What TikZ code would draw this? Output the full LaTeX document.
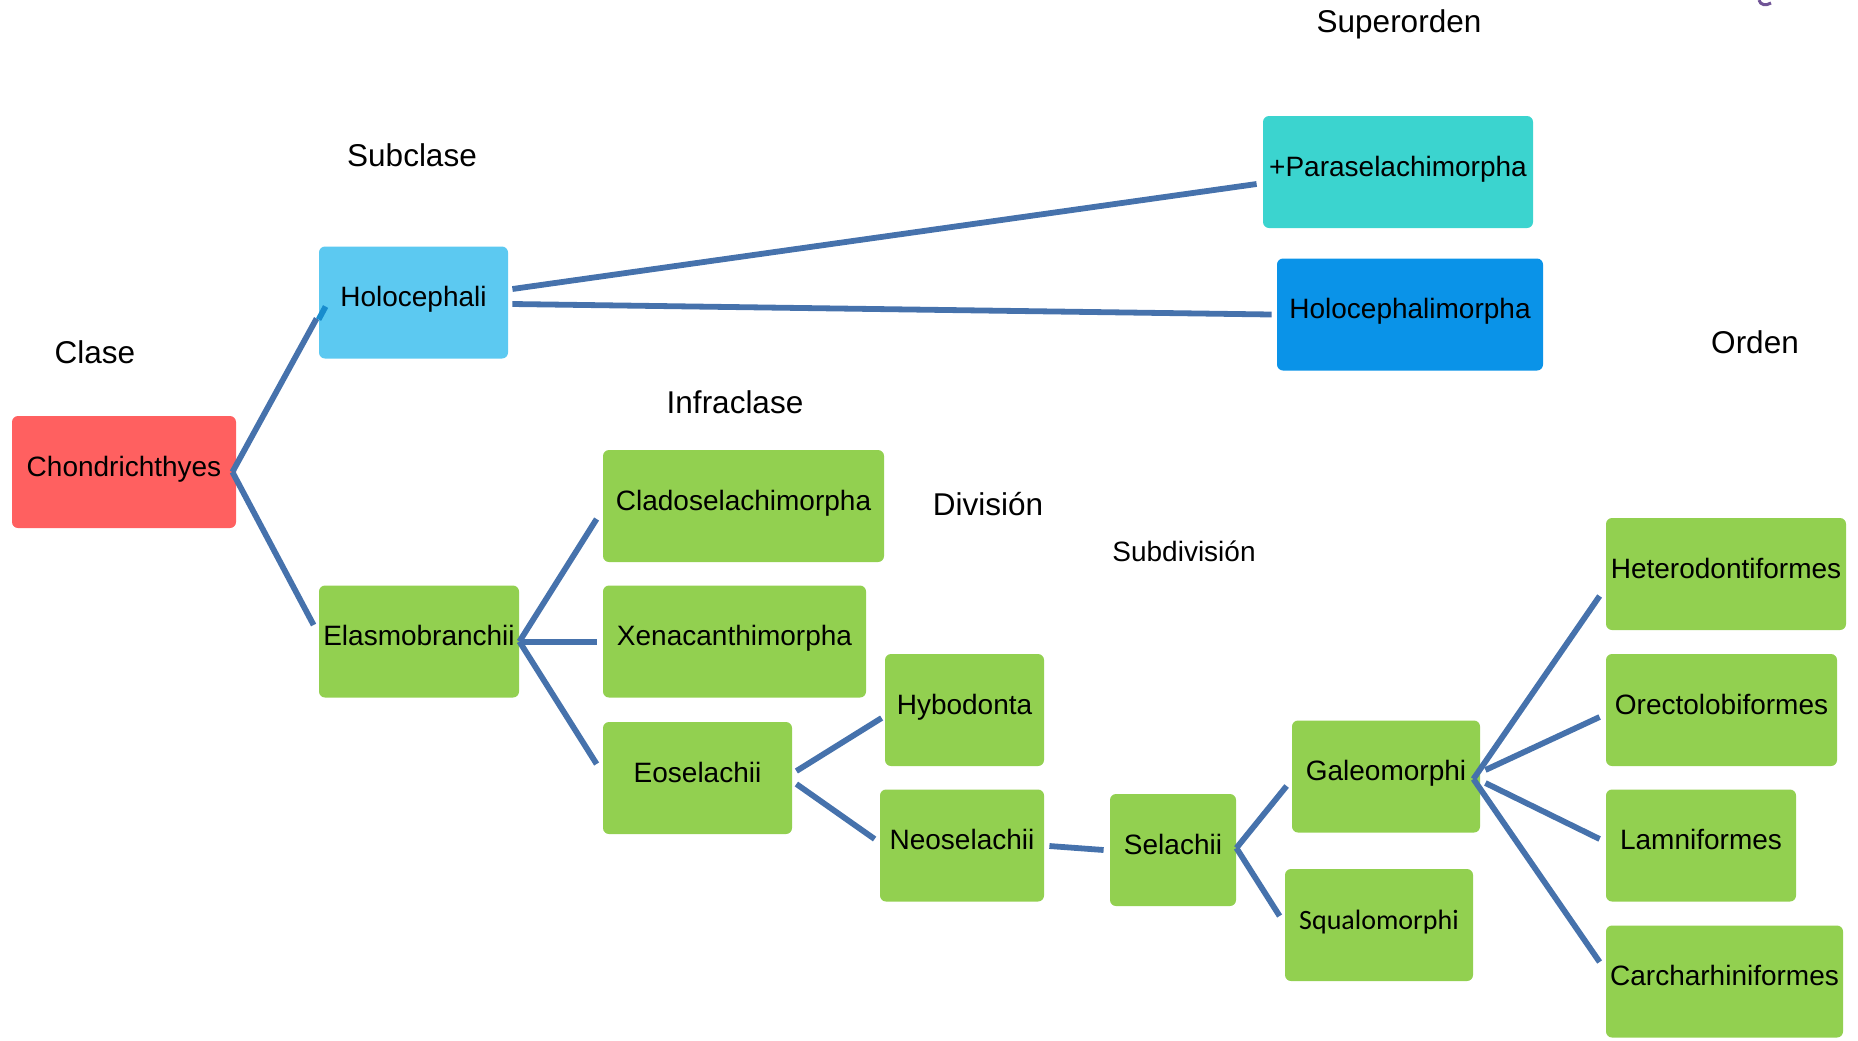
\documentclass[tikz,border=0pt]{standalone}
\usepackage{fontspec}
\setmainfont{Liberation Sans}
\newfontfamily\carlito{Carlito}
\usetikzlibrary{calc}

\definecolor{linkblue}{RGB}{70,114,172}
\definecolor{tipblue}{RGB}{24,140,206}
\definecolor{rootred}{RGB}{255,96,96}
\definecolor{skyblue}{RGB}{92,201,241}
\definecolor{teal}{RGB}{59,212,207}
\definecolor{deepblue}{RGB}{10,147,232}
\definecolor{leafgreen}{RGB}{146,208,80}
\definecolor{markpurple}{RGB}{112,84,150}

\begin{document}
\begin{tikzpicture}[x=0.5pt,y=-0.5pt,
  box/.style={rounded corners=3pt, minimum height=56pt, inner sep=0pt,
    text height=10pt, text depth=6pt, text=black,
    font=\fontsize{14}{16}\selectfont},
  rank/.style={inner sep=0pt, text=black, font=\fontsize{15.75}{18}\selectfont},
  link/.style={draw=linkblue, line width=2.9pt}]

\useasboundingbox (0,0) rectangle (1858,1040);

% rank headings
\node[rank] (tclase)    at (95,352)   {Clase};
\node[rank] (tsubclase) at (412,155)  {Subclase};
\node[rank] (tinfra)    at (735,402)  {Infraclase};
\node[rank] (tdiv)      at (988,504)  {División};
\node[rank, font=\fontsize{14}{16}\selectfont] (tsubdiv) at (1184,551) {Subdivisión};
\node[rank] (tsuper)    at (1399,24)  {Superorden};
\node[rank] (torden)    at (1755,342) {Orden};

% taxon boxes
\node[box, fill=rootred,  minimum width=112pt]   (chon)   at (124,472)    {Chondrichthyes};
\node[box, fill=skyblue,  minimum width=94.5pt]  (holo)   at (413.5,302.5) {Holocephali};
\node[box, fill=teal,     minimum width=135pt]   (para)   at (1398,172)   {+Paraselachimorpha};
\node[box, fill=deepblue, minimum width=133pt]   (holom)  at (1410,314.5) {Holocephalimorpha};
\node[box, fill=leafgreen, minimum width=100pt]  (elasmo) at (419,641.5)  {Elasmobranchii};
\node[box, fill=leafgreen, minimum width=140.5pt] (clado) at (743.5,506)  {Cladoselachimorpha};
\node[box, fill=leafgreen, minimum width=131.5pt] (xena)  at (734.5,641.5) {Xenacanthimorpha};
\node[box, fill=leafgreen, minimum width=94.5pt] (eosel)  at (697.5,778)  {Eoselachii};
\node[box, fill=leafgreen, minimum width=79.5pt] (hybo)   at (964.5,710)  {Hybodonta};
\node[box, fill=leafgreen, minimum width=82pt]   (neosel) at (962,845.5)  {Neoselachii};
\node[box, fill=leafgreen, minimum width=63pt]   (selach) at (1173,850)   {Selachii};
\node[box, fill=leafgreen, minimum width=94pt]   (galeo)  at (1386,776.5) {Galeomorphi};
\node[box, fill=leafgreen, minimum width=94pt, font=\carlito\fontsize{14}{16}\selectfont] (squalo) at (1379,925) {Squalomorphi};
\node[box, fill=leafgreen, minimum width=120pt]  (hetero) at (1726,574)   {Heterodontiformes};
\node[box, fill=leafgreen, minimum width=115.5pt] (orecto) at (1721.5,710) {Orectolobiformes};
\node[box, fill=leafgreen, minimum width=95pt]   (lamni)  at (1701,845.5) {Lamniformes};
\node[box, fill=leafgreen, minimum width=118.5pt] (carch) at (1724.5,981.5) {Carcharhiniformes};

% connectors
\draw[link] ($(chon.east)+(-4,0)$) -- ($(holo.west)+(-2,16)$);
\draw[draw=tipblue, line width=2.9pt] ($(holo.west)+(0,17)$) -- ($(holo.west)+(7,4)$);
\draw[link] ($(chon.east)+(-4,0)$) -- ($(elasmo.west)+(-5,-16.5)$);

\draw[link] ($(holo.east)+(4,-13.5)$) -- ($(para.west)+(-6,12)$);
\draw[link] ($(holo.east)+(4,1.5)$)   -- ($(holom.west)+(-5,0)$);

\draw[link] (elasmo.east) -- ($(clado.west)+(-6,13)$);
\draw[link] ($(elasmo.east)+(2,0.5)$) -- ($(xena.west)+(-6,0.5)$);
\draw[link] (elasmo.east) -- ($(eosel.west)+(-6,-14)$);

\draw[link] ($(eosel.east)+(4,-7)$) -- ($(hybo.west)+(-3,8)$);
\draw[link] ($(eosel.east)+(4,6)$)  -- ($(neosel.west)+(-5,-6.5)$);

\draw[link] ($(neosel.east)+(5,0.5)$) -- ($(selach.west)+(-6,0)$);

\draw[link] ($(selach.east)+(0,-2)$) -- ($(galeo.west)+(-5,9.5)$);
\draw[link] ($(selach.east)+(0,-2)$) -- ($(squalo.west)+(-5,-9)$);

\draw[link] ($(galeo.east)+(-7,2.5)$) -- ($(hetero.west)+(-6,22)$);
\draw[link] ($(galeo.east)+(5,-6.5)$) -- ($(orecto.west)+(-6,7)$);
\draw[link] ($(galeo.east)+(5,6.5)$)  -- ($(lamni.west)+(-6,-6.5)$);
\draw[link] ($(galeo.east)+(-7,2.5)$) -- ($(carch.west)+(-6,-19.5)$);

% small cut-off stroke at the top edge
\draw[markpurple, line width=1.5pt] (1759,0) .. controls (1760,5) and (1766,6) .. (1771,3);

\end{tikzpicture}
\end{document}
